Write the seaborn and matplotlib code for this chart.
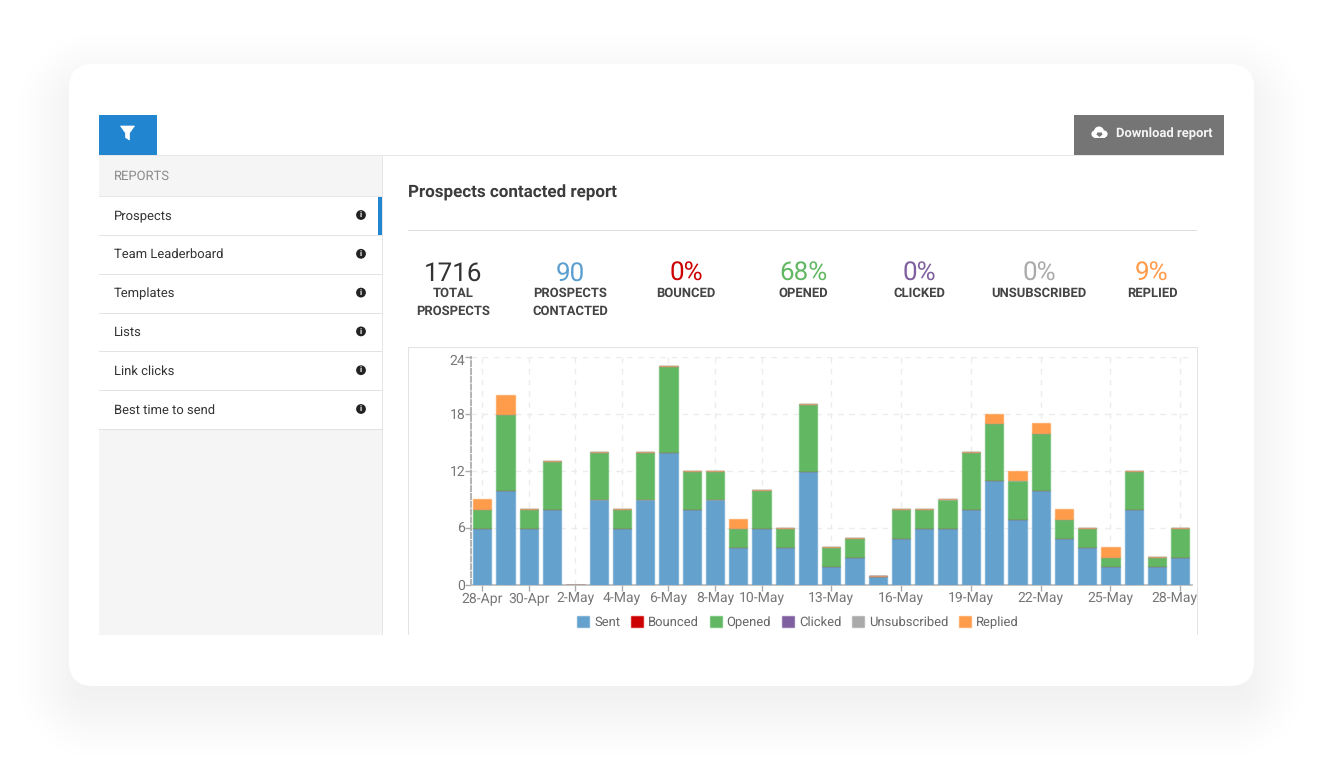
import numpy as np
import pandas as pd
import seaborn as sns
import matplotlib
matplotlib.use("Agg")
import matplotlib.pyplot as plt
from matplotlib.patches import Rectangle, FancyBboxPatch, Circle, Polygon, Patch
from matplotlib.colors import to_rgba
from matplotlib.transforms import ScaledTranslation

# ---------- data ----------
days = ["28-Apr", "29-Apr", "30-Apr"] + [f"{d}-May" for d in range(1, 29)]
sent = [6, 10, 6, 8, 0, 9, 6, 9, 14, 8, 9, 4, 6, 4, 12, 2, 3, 1, 5, 6, 6, 8, 11, 7, 10, 5, 4, 2, 8, 2, 3]
bounced = [0] * 31
opened = [2, 8, 2, 5, 0, 5, 2, 5, 9, 4, 3, 2, 4, 2, 7, 2, 2, 0, 3, 2, 3, 6, 6, 4, 6, 2, 2, 1, 4, 1, 3]
clicked = [0] * 31
unsubscribed = [0] * 31
replied = [1, 2, 0, 0, 0, 0, 0, 0, 0, 0, 0, 1, 0, 0, 0, 0, 0, 0, 0, 0, 0, 0, 1, 1, 1, 1, 0, 1, 0, 0, 0]
series_names = ["Sent", "Bounced", "Opened", "Clicked", "Unsubscribed", "Replied"]
series_values = [sent, bounced, opened, clicked, unsubscribed, replied]
series_colors = ["#65a1cd", "#cc0000", "#62b862", "#7f5f9f", "#aaaaaa", "#ff9c4b"]
shown_ticks = ["28-Apr", "30-Apr", "2-May", "4-May", "6-May", "8-May", "10-May", "13-May",
               "16-May", "19-May", "22-May", "25-May", "28-May"]
y_ticks = [0, 6, 12, 18, 24]

stat_values = ["1716", "90", "0%", "68%", "0%", "0%", "9%"]
stat_labels = ["TOTAL\nPROSPECTS", "PROSPECTS\nCONTACTED", "BOUNCED", "OPENED", "CLICKED", "UNSUBSCRIBED", "REPLIED"]
stat_colors = ["#333333", "#5b9fd0", "#cc0000", "#62b862", "#7f5f9f", "#aaaaaa", "#ff9c4b"]
stat_x = [453, 570, 686, 803, 919, 1039, 1152]
menu_items = ["Prospects", "Team Leaderboard", "Templates", "Lists", "Link clicks", "Best time to send"]

# ---------- figure ----------
sns.set_theme(style="white")
plt.rcParams["font.family"] = ["Roboto", "DejaVu Sans"]
plt.rcParams["text.hinting"] = "no_hinting"
plt.rcParams["text.hinting_factor"] = 1
W, H = 1344, 781
fig = plt.figure(figsize=(W / 100, H / 100), dpi=100, facecolor="white")
ui = fig.add_axes([0, 0, 1, 1], zorder=0)


def px(size):
    return size * 0.72


def rect(x0, y0, x1, y1, color, z=2):
    ui.add_patch(Rectangle((x0, y0), x1 - x0, y1 - y0, facecolor=color, edgecolor="none", zorder=z))


# soft shadow: a rounded-rectangle distance field, dropped slightly below the card
gx, gy = np.meshgrid(np.arange(W) + 0.5, np.arange(H) + 0.5)
qx = np.abs(gx - 661.5) - (592.5 - 24)
qy = np.abs(gy - (375 + 20)) - (311 - 24)
dist = np.hypot(np.maximum(qx, 0), np.maximum(qy, 0)) + np.minimum(np.maximum(qx, qy), 0) - 24
t = np.clip((dist + 30) / 95, 0, 1)
shade = np.zeros((H, W, 4))
shade[..., :3] = 0.05
shade[..., 3] = 0.06 * (1 - t * t * (3 - 2 * t))
ui.imshow(shade, extent=(0, W, H, 0), interpolation="nearest", zorder=0.5, aspect="auto")
ui.set_xlim(0, W)
ui.set_ylim(H, 0)
ui.axis("off")

ui.add_patch(FancyBboxPatch((69, 64), 1185, 622, boxstyle="round,pad=0,rounding_size=24",
                            facecolor="white", edgecolor="none", zorder=1.5))

# top bar
rect(99, 154.5, 1224, 155.5, "#e8e8e8")
rect(99, 115, 157, 155, "#2185d0")
ui.add_patch(Polygon([(120.5, 126), (134.5, 126), (129.5, 133), (129.5, 140), (125.5, 137.5), (125.5, 133)],
                     facecolor="white", edgecolor="white", linewidth=0.5, zorder=3))
rect(1074, 115, 1224, 155, "#757575")
for cx, cy, r in [(1095, 134, 3.6), (1099, 131.5, 5), (1104, 134, 3.6)]:
    ui.add_patch(Circle((cx, cy), r, facecolor="white", edgecolor="none", zorder=3))
rect(1094, 134, 1105, 137.5, "white", z=3)
ui.add_patch(Polygon([(1097, 132.5), (1102, 132.5), (1102, 134), (1103, 134), (1099.5, 137), (1096, 134), (1097, 134)],
                     facecolor="#757575", edgecolor="none", zorder=4))
ui.text(1116, 133.8, "Download report", color="#f4f4f4", fontsize=px(13.2), fontweight="bold", va="center", ha="left", zorder=3)

# sidebar
rect(99, 155.5, 382, 635, "#f5f5f5")
rect(382, 155.5, 383, 635, "#e6e6e6")
rect(99, 196.5, 382, 430, "white")
ui.text(114, 176, "REPORTS", color="#8c8c8c", fontsize=px(12.7), va="center", ha="left", zorder=3)
rect(99, 196, 382, 197, "#e6e6e6", z=3)
for i, item in enumerate(menu_items):
    cy = 216 + i * 38.8
    ui.text(114, cy, item, color="#333333", fontsize=px(13.4), va="center", ha="left", zorder=3)
    ui.add_patch(Circle((361, cy - 1), 4.9, facecolor="#222222", edgecolor="none", zorder=3))
    ui.text(361, cy - 1, "i", color="white", fontsize=px(8.5), fontweight="bold", va="center", ha="center", zorder=4)
    rect(99, 235 + i * 38.8, 382, 236 + i * 38.8, "#e3e3e3", z=3)
rect(378, 196.5, 382, 235, "#2185d0", z=4)

# header + stats
ui.text(408, 192.5, "Prospects contacted report", color="#3c3c3c", fontsize=px(16.9), fontweight="bold",
        va="center", ha="left", zorder=3)
rect(408, 229.5, 1197, 230.5, "#dddddd")
for x, val, lab, col in zip(stat_x, stat_values, stat_labels, stat_colors):
    ui.text(x, 273.2, val, color=col, fontsize=px(26), va="center", ha="center", zorder=3)
    for j, line in enumerate(lab.split("\n")):
        ui.text(x, 293.2 + j * 18, line, color="#444444", fontsize=px(13.3), fontweight="bold",
                va="center", ha="center", zorder=3)

# chart frame (open at the bottom)
rect(408, 347, 1197, 348, "#e3e3e3")
rect(408, 347, 409, 635, "#e3e3e3")
rect(1196.5, 347, 1197.5, 635, "#e3e3e3")

# ---------- chart ----------
ax = fig.add_axes([470.7 / W, 1 - 585 / H, 721.2 / W, 228 / H], zorder=2)
ax.patch.set_alpha(0)
df = pd.DataFrame(dict(zip(series_names, series_values)))
df.insert(0, "day", days)
bottom = np.zeros(len(days))
for name, col in zip(series_names, series_colors):
    vals = df[name].to_numpy(dtype=float)
    sns.barplot(data=df, x="day", y=name, order=days, ax=ax, color=col, saturation=1, width=0.785,
                errorbar=None, bottom=bottom, edgecolor=to_rgba(col, 0.6), linewidth=1.0, zorder=3)
    bottom = bottom + vals

ax.set_xlim(-0.5, 30.5)
ax.set_ylim(0, 24)
ax.set_xlabel("")
ax.set_ylabel("")
tick_pos = [days.index(t) for t in shown_ticks]
ax.set_xticks(tick_pos)
ax.set_xticklabels(shown_ticks)
ax.set_yticks(y_ticks)
ax.tick_params(axis="both", length=4, width=1, color="#aaaaaa", labelcolor="#777777", labelsize=px(13.6),
               bottom=True, left=True)
ax.tick_params(axis="x", pad=0.5)
ax.tick_params(axis="y", pad=0)
ax.grid(True, linestyle=(0, (4, 4)), color="#ececec", linewidth=1, zorder=0)
ax.set_axisbelow(True)
for s in ["top", "right"]:
    ax.spines[s].set_visible(False)
ax.spines["left"].set_color("#aaaaaa")
ax.spines["left"].set_linestyle((0, (3, 1.5)))
ax.spines["bottom"].set_color("#bbbbbb")
last = ax.get_xticklabels()[-1]
last.set_transform(last.get_transform() + ScaledTranslation(-6 / 100, 0, fig.dpi_scale_trans))
top_label = ax.get_yticklabels()[-1]
top_label.set_transform(top_label.get_transform() + ScaledTranslation(0, -2.5 / 100, fig.dpi_scale_trans))

handles = [Patch(facecolor=c, edgecolor=to_rgba(c, 0.6), label=n) for n, c in zip(series_names, series_colors)]
leg = fig.legend(handles=handles, ncol=6, loc="center", bbox_to_anchor=(798 / W, 1 - 622.5 / H), frameon=False,
                 fontsize=px(13.4), labelcolor="#666666", handlelength=0.9, handleheight=0.8, handletextpad=0.37,
                 columnspacing=0.8, borderpad=0)

fig.savefig("out.png", dpi=100, facecolor="white")
